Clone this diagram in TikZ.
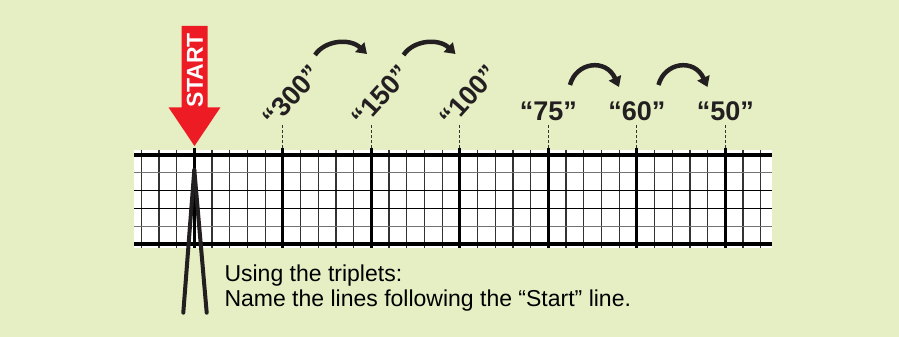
\documentclass[tikz,border=0pt]{standalone}
\usepackage{fontspec}
\setmainfont{Liberation Sans}
\usetikzlibrary{arrows.meta}
\definecolor{bg}{HTML}{E6EEC4}
\definecolor{startred}{HTML}{ED1C24}
\definecolor{ink}{HTML}{231F20}
\begin{document}
\begin{tikzpicture}[x=1pt,y=-1pt,
  thinline/.style={line width=1.2pt,black!80},
  thickline/.style={line width=3.2pt,black},
  dashline/.style={line width=0.7pt,black!80,dash pattern=on 3pt off 2pt},
  bignum/.style={font=\fontsize{27}{27}\selectfont\bfseries,text=ink,inner sep=0pt},
  jump/.style={line width=4.5pt,ink,-{Triangle[length=10pt,width=13pt]}},
  leg/.style={line width=4pt,ink,line cap=round},
  caption/.style={font=\fontsize{23}{23}\selectfont,text=black,inner sep=0pt,anchor=base west}]
\fill[bg] (0,0) rectangle (899,337);
\useasboundingbox (0,0) rectangle (899,337);
% grid band
\fill[white] (134.3,149.5) rectangle (771.7,247.7);
\foreach \k in {-3,...,32}{
  \draw[thinline] ({194.3+17.7*\k},149.5) -- ({194.3+17.7*\k},247.7);
}
\foreach \j/\c in {1/black!55,2/black,3/black,4/black!55}{
  \draw[line width=1.3pt,\c] (134.3,{155+17.8*\j}) -- (771.7,{155+17.8*\j});
}
\draw[thickline] (134.3,155) -- (771.7,155);
\draw[thickline] (134.3,244) -- (771.7,244);
\foreach \m in {0,...,6}{
  \draw[line width=3pt] ({194.3+88.5*\m},147.5) -- ({194.3+88.5*\m},247.7);
}
% dashed ticks above the named lines
\foreach \m in {1,...,6}{
  \coordinate (d\m) at ({194.3+88.5*\m},125);
  \coordinate (g\m) at ({194.3+88.5*\m},147.5);
  \draw[dashline] (d\m) -- (g\m);
}
% labels
\node[bignum,rotate=48] (l300) at (292,96) {“300”};
\node[bignum,rotate=48] (l150) at (380.5,96) {“150”};
\node[bignum,rotate=48] (l100) at (469,96) {“100”};
\node[bignum,anchor=base] (l75) at (548.3,120) {“75”};
\node[bignum,anchor=base] (l60) at (636.8,120) {“60”};
\node[bignum,anchor=base] (l50) at (725.3,120) {“50”};
% jump arrows
\coordinate (a1s) at (315,55);   \coordinate (a1e) at (367,54);
\coordinate (a2s) at (403.5,55); \coordinate (a2e) at (455.5,54);
\coordinate (a3s) at (570,85);   \coordinate (a3e) at (619,87);
\coordinate (a4s) at (658.5,85); \coordinate (a4e) at (707.5,87);
\draw[jump] (a1s) .. controls +(10,-15) and +(-17,-16) .. (a1e);
\draw[jump] (a2s) .. controls +(10,-15) and +(-17,-16) .. (a2e);
\draw[jump] (a3s) .. controls +(6,-23) and +(-13,-29) .. (a3e);
\draw[jump] (a4s) .. controls +(6,-23) and +(-13,-29) .. (a4e);
% START arrow
\fill[startred] (181.5,26) -- (207.5,26) -- (207.5,107.3) -- (220.5,107.3)
  -- (194.5,146) -- (168.5,107.3) -- (181.5,107.3) -- cycle;
\node[rotate=90,text=white,font=\fontsize{23}{23}\selectfont\bfseries,inner sep=0pt] (start) at (195,70.5) {START};
% tripod legs
\coordinate (top) at (194.3,170);
\coordinate (footl) at (183.3,312.7);
\coordinate (footr) at (206.7,312.7);
\draw[leg] (top) -- (footl);
\draw[leg] (top) -- (footr);
% caption
\node[caption] (cap1) at (224.3,281.5) {Using the triplets:};
\node[caption] (cap2) at (224.3,306) {Name the lines following the “Start” line.};
\end{tikzpicture}
\end{document}
